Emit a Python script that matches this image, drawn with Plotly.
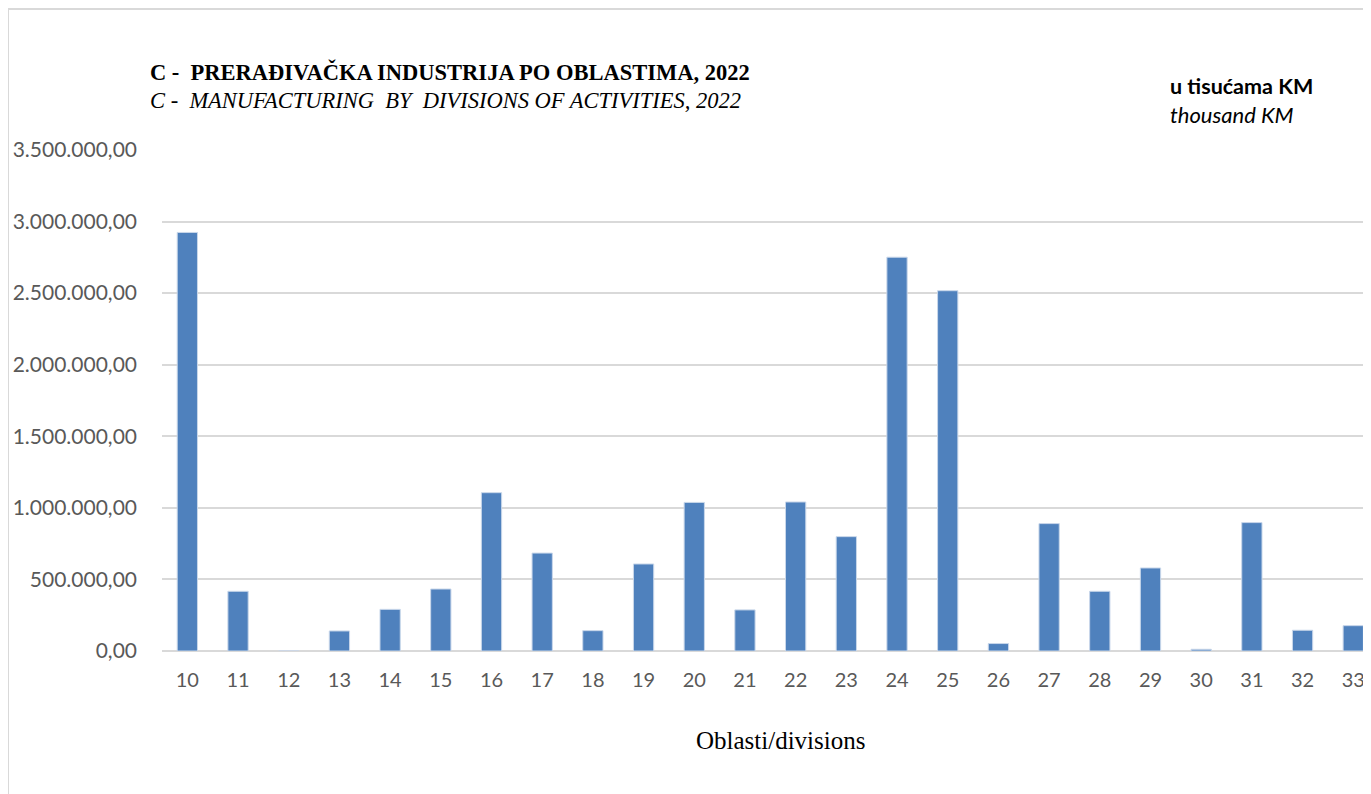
import plotly.graph_objects as go

# oblasti (divisions) i vrijednosti u tisućama KM
divisions = [str(d) for d in range(10, 34)]
values = [2924000, 417000, 0, 140000, 291000, 433000, 1106000, 684000,
          142000, 608000, 1038000, 287000, 1041000, 799000, 2751000, 2517000,
          52000, 890000, 417000, 580000, 12000, 897000, 145000, 177000]
y_ticks = [0, 500000, 1000000, 1500000, 2000000, 2500000, 3000000, 3500000]

title_bs = "C -  PRERAĐIVAČKA INDUSTRIJA PO OBLASTIMA, 2022"
title_en = "C -  MANUFACTURING  BY  DIVISIONS OF ACTIVITIES, 2022"
unit_bs = "u tisućama KM"
unit_en = "thousand KM"
x_title = "Oblasti/divisions"

# the page body adds an 8px margin, so figure coords = screen coords - 8
OFF = 8
W, H = 1371 - OFF, 794 - OFF
L, R, T, B = 162 - OFF, 0, 150 - OFF, 794 - 651
pw, ph = W - L - R, H - T - B


def px(x):
    return (x - OFF - L) / pw


def py(y):
    return (H - B - (y - OFF)) / ph


fig = go.Figure(go.Bar(
    x=divisions, y=values,
    marker=dict(color="#4F81BD", line=dict(color="#c9d7ea", width=1)),
    hoverinfo="x+y",
))

serif = "Liberation Serif, serif"
sans = "Lato, Open Sans, sans-serif"

annots = [
    dict(x=px(148), y=py(72), text="<b>" + title_bs + "</b>", xanchor="left",
         font=dict(family=serif, size=22.5, color="black")),
    dict(x=px(148), y=py(100), text="<i>" + title_en + "</i>", xanchor="left",
         font=dict(family=serif, size=22.5, color="black")),
    dict(x=px(1168), y=py(86), text="<b>" + unit_bs + "</b>", xanchor="left",
         font=dict(family=sans, size=21.5, color="black")),
    dict(x=px(1168), y=py(115), text="<i>" + unit_en + "</i>", xanchor="left",
         font=dict(family=sans, size=22, color="black")),
    dict(x=px(781), y=py(740), text=x_title, xanchor="center",
         font=dict(family=serif, size=25, color="black")),
]
for a in annots:
    a.update(xref="paper", yref="paper", yanchor="middle", showarrow=False)

border = dict(color="#d9d9d9", width=2)
shapes = [
    dict(type="line", xref="paper", yref="paper", x0=px(8), x1=px(8),
         y0=py(9), y1=py(800), line=border),
    dict(type="line", xref="paper", yref="paper", x0=px(8), x1=px(1380),
         y0=py(9), y1=py(9), line=border),
]

fig.update_layout(
    width=W, height=H,
    margin=dict(l=L, r=R, t=T, b=B),
    paper_bgcolor="white", plot_bgcolor="white",
    separators=",.",
    bargap=0.6,
    showlegend=False,
    annotations=annots,
    shapes=shapes,
    font=dict(family=sans, color="#595959"),
)
fig.update_xaxes(
    type="category", range=[-0.5, 23.35], showgrid=False, showline=False,
    ticks="", tickfont=dict(family=sans, size=20, color="#595959"),
    ticklabelstandoff=15,
)
fig.update_yaxes(
    range=[0, 3500000], tickvals=y_ticks, tickformat=",.2f",
    showgrid=True, gridcolor="#d9d9d9", gridwidth=1.5,
    zeroline=True, zerolinecolor="#d9d9d9", zerolinewidth=2,
    showline=False, ticks="", ticklabelstandoff=24,
    tickfont=dict(family=sans, size=21, color="#595959"),
)

fig.write_html("out.html")
